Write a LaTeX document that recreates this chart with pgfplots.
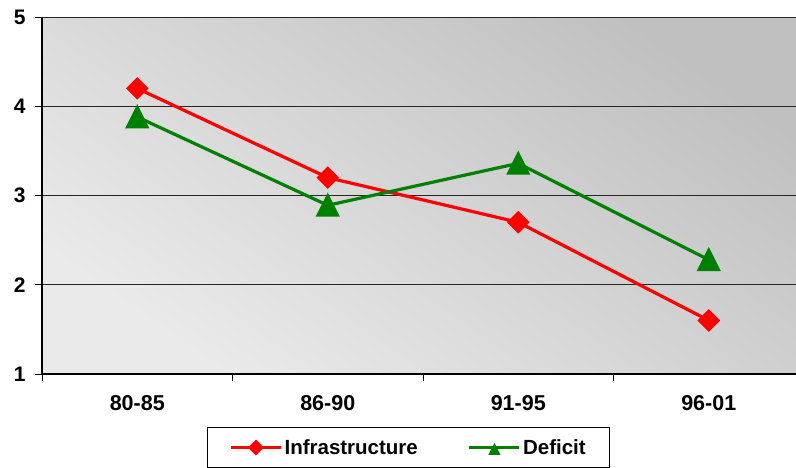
\documentclass[border=0pt]{standalone}
\usepackage{fontspec}
\setmainfont{Liberation Sans}
\usepackage{pgfplots}
\pgfplotsset{compat=1.18}
\definecolor{xlred}{HTML}{FF0000}
\definecolor{xlgreen}{HTML}{008000}
\definecolor{bgtop}{HTML}{C0C0C0}
\definecolor{bgbot}{HTML}{EAEAEA}
\begin{document}
\begin{tikzpicture}
\begin{axis}[
  scale only axis, width=762pt, height=357pt,
  xmin=-0.5, xmax=3.5, ymin=1, ymax=5,
  xtick={0,1,2,3}, xticklabels={80-85,86-90,91-95,96-01},
  minor xtick={-0.5,0.5,1.5,2.5,3.5},
  ytick={1,2,3,4,5},
  /pgf/number format/assume math mode=true,
  axis x line*=bottom, axis y line*=left,
  axis line style={line width=1.6pt, black},
  tick align=outside,
  major tick length=7pt, minor tick length=7pt,
  tick style={black, line width=0.8pt},
  major x tick style={draw=none},
  ymajorgrids, major grid style={black!85, line width=1pt},
  axis background/.style={shade, top color=bgtop, bottom color=bgbot, shading angle=-35},
  xticklabel style={font=\bfseries\fontsize{21.5}{21.5}\selectfont, yshift=-11pt},
  yticklabel style={font=\bfseries\fontsize{21}{21}\selectfont, xshift=-6pt},
  legend columns=2,
  legend style={at={(0.2165,0)}, anchor=north west, yshift=-53pt,
    draw=black, line width=0.8pt, inner xsep=22pt, inner ysep=10pt,
    font=\bfseries\fontsize{20.5}{20.5}\selectfont,
    /tikz/every even column/.append style={column sep=48pt}},
  legend image code/.code={\draw[mark repeat=2,mark phase=2,#1,mark size=4pt] plot coordinates {(0pt,0pt) (25pt,0pt) (50pt,0pt)};},
]
\coordinate (sw) at (rel axis cs:0,0);
\coordinate (ne) at (rel axis cs:1,1);
\addplot[xlred, line width=3.2pt, mark=square*, mark size=6.4pt, mark options={rotate=45, solid}]
  coordinates {(0,4.20) (1,3.20) (2,2.70) (3,1.60)};
\addlegendentry{Infrastructure}
\addplot[xlgreen, line width=3.2pt, mark=triangle*, mark size=11pt, mark options={yscale=1.15, yshift=-3pt, solid}]
  coordinates {(0,3.88) (1,2.89) (2,3.36) (3,2.28)};
\addlegendentry{Deficit}
\end{axis}
\pgfresetboundingbox
\path ([shift={(-42pt,-94pt)}]sw) rectangle ([shift={(-8pt,17pt)}]ne);
\end{tikzpicture}
\end{document}
